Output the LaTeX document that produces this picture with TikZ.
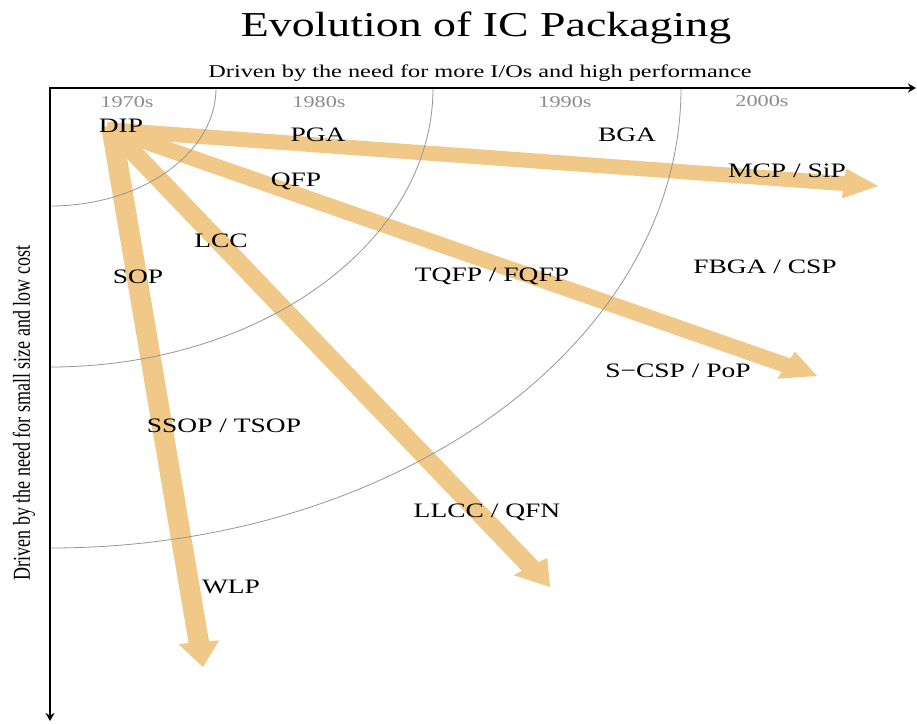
\documentclass[tikz,border=0pt]{standalone}
\usepackage{fontspec}
\setmainfont{Liberation Serif}
\newfontfamily\titlefont{Liberation Serif}[FakeStretch=1.31]
\newfontfamily\labelfont{Liberation Serif}[FakeStretch=1.34]
\newfontfamily\axisfont{Liberation Serif}[FakeStretch=1.35]
\newfontfamily\plainfont{Liberation Serif}
\usetikzlibrary{arrows.meta}
\definecolor{fan}{RGB}{240,200,135}
\definecolor{arcgray}{RGB}{150,150,150}
\definecolor{decgray}{RGB}{140,140,140}

% fat arrow from (x1,y1) to tip (x2,y2), pixel coordinates, stretched horizontally
\newcommand\fatarrow[4]{%
  \pgfmathsetmacro\fsx{1.37}%
  \pgfmathsetmacro\fdx{(#3-#1)/\fsx}%
  \pgfmathsetmacro\fdy{#4-#2}%
  \pgfmathsetmacro\flen{veclen(\fdx,\fdy)}%
  \pgfmathsetmacro\fux{\fdx/\flen}%
  \pgfmathsetmacro\fuy{\fdy/\flen}%
  \pgfmathsetmacro\fnx{-\fsx*\fuy}%
  \pgfmathsetmacro\fny{\fux}%
  \pgfmathsetmacro\fax{#1-\fsx*\fux*4}%
  \pgfmathsetmacro\fay{#2-\fuy*4}%
  \pgfmathsetmacro\fbx{#3-\fsx*\fux*25}%
  \pgfmathsetmacro\fby{#4-\fuy*25}%
  \fill[fan] ({\fax+\fnx*7.5},{\fay+\fny*7.5})
    -- ({\fbx+\fnx*7.5},{\fby+\fny*7.5})
    -- ({\fbx+\fnx*15},{\fby+\fny*15})
    -- (#3,#4)
    -- ({\fbx-\fnx*15},{\fby-\fny*15})
    -- ({\fbx-\fnx*7.5},{\fby-\fny*7.5})
    -- ({\fax-\fnx*7.5},{\fay-\fny*7.5}) -- cycle;
}

\tikzset{
  axisline/.style={line width=2pt, black},
  arcline/.style={arcgray, line width=0.8pt},
  pkg/.style={font=\labelfont\fontsize{20.5}{24}\selectfont, anchor=base, inner sep=0pt},
  decade/.style={font=\axisfont\fontsize{16.5}{20}\selectfont, text=decgray, anchor=base, inner sep=0pt},
  axislabel/.style={font=\axisfont\fontsize{18}{22}\selectfont, anchor=base, inner sep=0pt},
  titlestyle/.style={font=\titlefont\fontsize{35}{42}\selectfont, anchor=base, inner sep=0pt}
}

\begin{document}
\begin{tikzpicture}[x=1pt, y=-1pt]
\fill[white] (0,0) rectangle (917,723);
\useasboundingbox (0,0) rectangle (917,723);

% fan of arrows
\fatarrow{112}{130}{878}{186}
\fatarrow{112}{130}{817}{376}
\fatarrow{112}{130}{550}{587}
\fatarrow{112}{130}{203}{667}

% decade arcs
\draw[arcline] (216,88) arc[start angle=0, end angle=-90, x radius=166pt, y radius=118pt];
\draw[arcline] (433,88) arc[start angle=0, end angle=-90, x radius=383pt, y radius=279pt];
\draw[arcline] (681,88) arc[start angle=0, end angle=-90, x radius=631pt, y radius=460pt];

% axes
\coordinate (O) at (50,88);
\coordinate (xend) at (916,88);
\coordinate (yend) at (50,721);
\draw[axisline, {Stealth[length=8pt,width=9pt,inset=2.5pt]}-{Stealth[length=8pt,width=9pt,inset=2.5pt]}] (xend) -- (O) -- (yend);

% titles
\node[titlestyle] (title) at (486,36) {Evolution of IC Packaging};
\node[axislabel] (toplabel) at (480,77) {Driven by the need for more I/Os and high performance};
\node[inner sep=0pt, rotate=90] (leftlabel) at (24,413) {\scalebox{1}[1.35]{\plainfont\fontsize{18}{22}\selectfont Driven by the need for small size and low cost}};

% decades
\node[decade] (d70) at (127,107) {1970s};
\node[decade] (d80) at (319,107) {1980s};
\node[decade] (d90) at (565,107) {1990s};
\node[decade] (d00) at (762,106) {2000s};

% package labels
\node[pkg] (dip) at (121,132) {DIP};
\node[pkg] (pga) at (318,141) {PGA};
\node[pkg] (qfp) at (296,186) {QFP};
\node[pkg] (bga) at (627,141) {BGA};
\node[pkg] (mcp) at (787,177) {MCP / SiP};
\node[pkg] (lcc) at (221,247) {LCC};
\node[pkg] (sop) at (138,283) {SOP};
\node[pkg] (tqfp) at (492,281) {TQFP / FQFP};
\node[pkg] (fbga) at (765,273) {FBGA / CSP};
\node[pkg] (scsp) at (678,377) {S\textminus CSP / PoP};
\node[pkg] (ssop) at (224,432) {SSOP / TSOP};
\node[pkg] (llcc) at (487,517) {LLCC / QFN};
\node[pkg] (wlp) at (231,593) {WLP};
\end{tikzpicture}
\end{document}
